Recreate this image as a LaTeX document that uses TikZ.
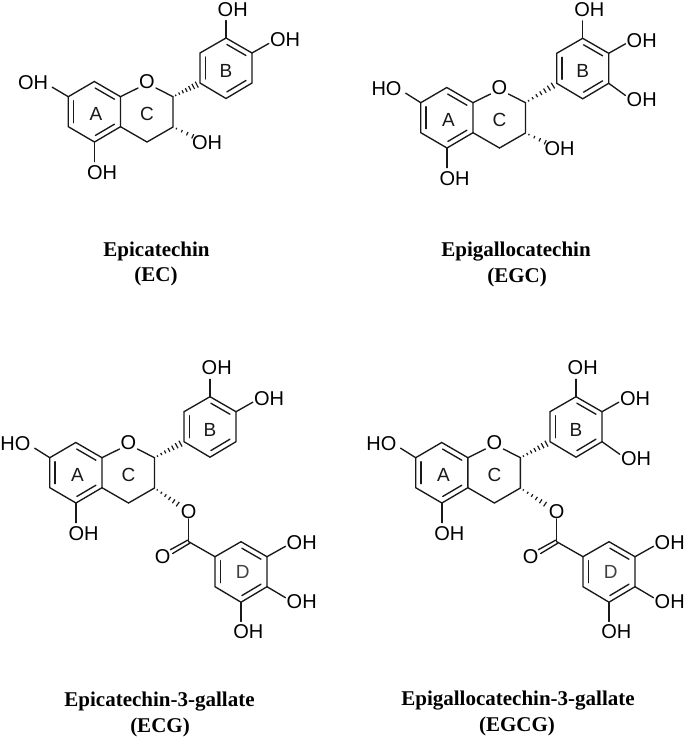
\documentclass[tikz,border=0pt]{standalone}
\usepackage{fontspec}
\setmainfont{Liberation Serif}
\setsansfont{Liberation Sans}
\usetikzlibrary{calc}
\tikzset{
  bond/.style={line width=1.35pt,line cap=round,draw=black!90},
  atomtext/.style={font=\sffamily\fontsize{20}{20}\selectfont,inner sep=0pt,text=black},
  ringtext/.style={font=\sffamily\fontsize{19}{19}\selectfont,inner sep=0pt,text=black!90},
  caption/.style={font=\rmfamily\bfseries\fontsize{21}{21}\selectfont,inner sep=0pt,text=black},
}
% inner line of an aromatic double bond
\newcommand{\dbl}[3]{\draw[bond,shorten <=1pt,shorten >=1pt] ($(#3)!.8!(#1)$) -- ($(#3)!.8!(#2)$);}
% hashed wedge from #1 to #2, fractions in the list #3
\newcommand{\hashbond}[3]{%
  \foreach \t in {#3}{%
    \coordinate (hp) at ($(#1)!\t!(#2)$);
    \pgfmathsetmacro{\hw}{0.5+3.2*\t}
    \draw[line width=1.2pt,draw=black!90] ($(hp)!\hw pt!90:(#2)$) -- ($(hp)!\hw pt!-90:(#2)$);
  }}
% benzene ring: prefix #1, upper left atom at (#2,#3)
\newcommand{\ringatoms}[3]{%
  \coordinate (#1a) at (#2+0,#3+30);
  \coordinate (#1b) at (#2+0,#3+0);
  \coordinate (#1c) at (#2+26,#3-15);
  \coordinate (#1d) at (#2+52,#3+0);
  \coordinate (#1e) at (#2+52,#3+30);
  \coordinate (#1f) at (#2+26,#3+45.5);
  \coordinate (#1m) at (#2+26,#3+15);
  \draw[bond] (#1a)--(#1b)--(#1c)--(#1d)--(#1e)--(#1f)--cycle;
  \dbl{#1a}{#1b}{#1m}\dbl{#1c}{#1d}{#1m}\dbl{#1e}{#1f}{#1m}}
% flavan-3-ol core: prefix #1, A/C shift (#2,#3), B ring position (#4,#5), label at C7 #6
\newcommand{\core}[6]{%
  \coordinate (#1c7) at (#2+68.3,#3+96.7);
  \coordinate (#1c8) at (#2+94.3,#3+81.5);
  \coordinate (#1c9) at (#2+120.5,#3+96.7);
  \coordinate (#1c10) at (#2+120.5,#3+126.7);
  \coordinate (#1c5) at (#2+94.5,#3+142);
  \coordinate (#1c6) at (#2+68.3,#3+126.7);
  \coordinate (#1m) at (#2+94.4,#3+111.8);
  \coordinate (#1c2) at (#2+173,#3+96.7);
  \coordinate (#1c3) at (#2+173,#3+127);
  \coordinate (#1c4) at (#2+147,#3+142);
  \node[atomtext] (#1o) at (#2+147,#3+82) {O};
  \draw[bond] (#1c7)--(#1c8)--(#1c9)--(#1c10)--(#1c5)--(#1c6)--cycle;
  \dbl{#1c6}{#1c7}{#1m}\dbl{#1c8}{#1c9}{#1m}\dbl{#1c10}{#1c5}{#1m}
  \draw[bond] (#1c9) -- ($(#1o.west)+(-1,6)$);
  \draw[bond] ($(#1o.east)+(1,6)$) -- (#1c2) -- (#1c3) -- (#1c4) -- (#1c10);
  \ringatoms{#1b}{#4}{#5}
  \hashbond{#1c2}{#1ba}{0.1,0.23,0.36,0.49,0.62,0.75,0.88}
  \node[atomtext] (#1oh7) at (#2+33+#6,#3+82.7) {\ifnum#6=0 OH\else HO\fi};
  \draw[bond] (#1c7) -- ($(#1oh7.east)+(4,4.5)$);
  \node[atomtext] (#1oh5) at (#2+102,#3+173) {OH};
  \draw[bond] (#1c5) -- ($(#1oh5.north -| #1c5)+(0,-4)$);
  \node[ringtext] (#1la) at (#2+96,#3+113.5) {A};
  \node[ringtext] (#1lc) at (#2+147,#3+114) {C};
  \node[ringtext] (#1lb) at (#4+26,#5+18) {B};
  \node[atomtext] (#1oh3p) at (#4+32.7,#5-43.7) {OH};
  \draw[bond] (#1bc) -- ($(#1oh3p.south -| #1bc)+(0,4)$);
  \node[atomtext] (#1oh4p) at (#4+85,#5-13) {OH};
  \draw[bond] (#1bd) -- ($(#1oh4p.west)+(-1,3.5)$);}
% gallate: prefix #1, x shift #2, y shift #3 relative to the ECG placement, core prefix #4
\newcommand{\gallate}[4]{%
  \node[atomtext] (#1oe) at (#2+188.7,#3+511.7) {O};
  \hashbond{#4c3}{#1oe}{0.08,0.2,0.32,0.44,0.56,0.68}
  \coordinate (#1cc) at (#2+188.7,#3+541.7);
  \node[atomtext] (#1oc) at (#2+162.7,#3+556.7) {O};
  \draw[bond] (#1oe.south) -- (#1cc);
  \draw[bond] ($(#1cc)+(-0.9,-1.6)$) -- ($(#1cc)!.66!(#1oc)+(-1.1,-1.9)$);
  \draw[bond] ($(#1cc)+(0.9,1.6)$) -- ($(#1cc)!.66!(#1oc)+(1.1,1.9)$);
  \ringatoms{#1d}{#2+215}{#3+556.7}
  \draw[bond] (#1cc) -- (#1db);
  \node[ringtext,text=black!75] (#1ld) at (#2+242.7,#3+572.3) {D};
  \node[atomtext] (#1oh1) at (#2+301.7,#3+542.3) {OH};
  \node[atomtext] (#1oh2) at (#2+301.7,#3+601.7) {OH};
  \node[atomtext] (#1oh3) at (#2+248.3,#3+631.7) {OH};
  \draw[bond] (#1dd) -- ($(#1oh1.west)+(-1,4)$);
  \draw[bond] (#1de) -- ($(#1oh2.west)+(-1,-4)$);
  \draw[bond] (#1df) -- ($(#1oh3.north -| #1df)+(0,-3)$);}
\begin{document}
\begin{tikzpicture}[x=1pt,y=-1pt]
\useasboundingbox (0,0) rectangle (685,738);
% Epicatechin
\core{p}{0}{0}{200}{53}{0}
\node[atomtext] (poh3) at (207,143) {OH};
\hashbond{pc3}{poh3}{0.1,0.26,0.42,0.58}
\node[caption] (pt1) at (156.5,251) {Epicatechin};
\node[caption] (pt2) at (156,276) {(EC)};
% Epigallocatechin
\core{q}{352.5}{6}{556.7}{53.3}{1}
\node[atomtext] (qoh3) at (559.5,149) {OH};
\hashbond{qc3}{qoh3}{0.1,0.26,0.42,0.58}
\node[atomtext] (qoh5p) at (641.7,99.5) {OH};
\draw[bond] (qbe) -- ($(qoh5p.west)+(-1,-4)$);
\node[caption] (qt1) at (516,252) {Epigallocatechin};
\node[caption] (qt2) at (517,277) {(EGC)};
% Epicatechin-3-gallate
\core{r}{-18.5}{361}{184}{411.7}{1}
\gallate{rg}{0}{0}{r}
\node[caption] (rt1) at (159.5,702) {Epicatechin-3-gallate};
\node[caption] (rt2) at (160,727) {(ECG)};
% Epigallocatechin-3-gallate
\core{s}{347.4}{361}{550}{411.7}{1}
\gallate{sg}{368}{0}{s}
\node[atomtext] (soh5p) at (636,458.3) {OH};
\draw[bond] (sbe) -- ($(soh5p.west)+(-1,-4)$);
\node[caption] (st1) at (518,701) {Epigallocatechin-3-gallate};
\node[caption] (st2) at (517,726) {(EGCG)};
\end{tikzpicture}
\end{document}
